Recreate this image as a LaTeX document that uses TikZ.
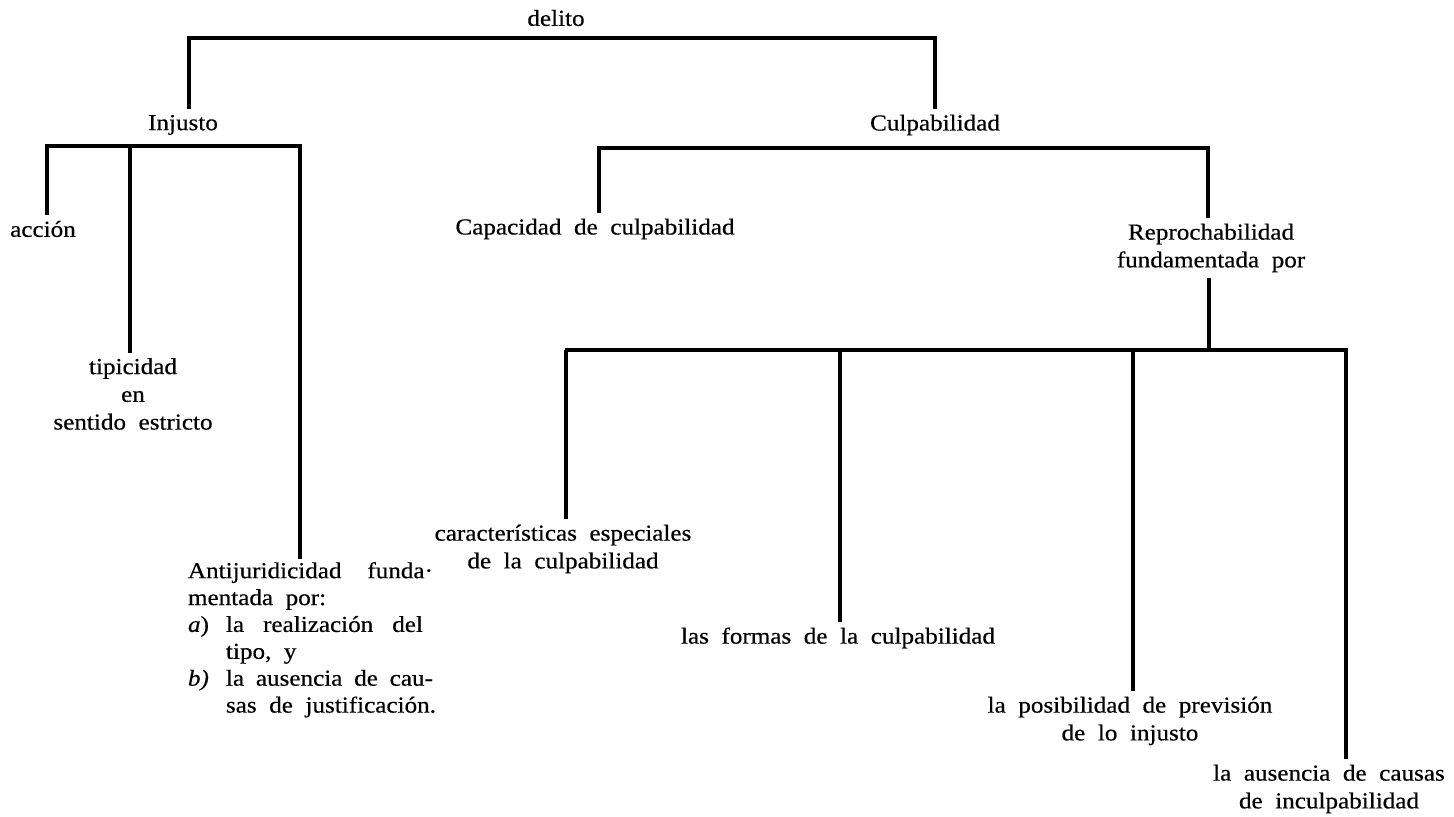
\documentclass[tikz,border=0pt]{standalone}
\usepackage{fontspec}
\setmainfont{Liberation Serif}[FakeStretch=1.1,WordSpace=2,FakeBold=0.5]
\usepackage{tikz}

\begin{document}
\begin{tikzpicture}[x=0.02cm, y=-0.02cm,
            rama/.style={line width=1.8pt},
            hoja/.style={inner sep=3pt, align=center, font=\fontsize{13}{15.8}\selectfont}]
            \useasboundingbox (0, 0) rectangle (1454, 817);

            \node[hoja] (delito) at (556, 18) {delito};
            \node[hoja] (inj) at (183, 125) {Injusto};
            \node[hoja] (culp) at (935, 125) {Culpabilidad};

            \node[hoja] (accion) at (43, 229) {acción};
            \node[hoja] (tipic) at (133, 394) {tipicidad\\en\\sentido estricto};
            \node[hoja, inner sep=0pt, font=\fontsize{13}{15.3}\selectfont] (antij) at (312, 640) {%
                \begin{tabular}{@{}l@{}l@{}}
                    \multicolumn{2}{@{}l@{}}{\makebox[4.9cm][s]{Antijuridicidad funda·}}\\
                    \multicolumn{2}{@{}l@{}}{mentada por:}\\
                    \makebox[0.76cm][l]{\textit{a})} & \makebox[3.94cm][s]{la realización del}\\
                    & tipo, y\\
                    \makebox[0.76cm][l]{\textit{b)}} & \makebox[4.14cm][s]{la ausencia de cau-}\\
                    & sas de justificación.
                \end{tabular}};

            \node[hoja] (capac) at (595, 229) {Capacidad de culpabilidad};
            \node[hoja] (reproch) at (1211, 248) {Reprochabilidad\\fundamentada por};

            \node[hoja] (caract) at (563, 549) {características especiales\\de la culpabilidad};
            \node[hoja] (formas) at (838, 638) {las formas de la culpabilidad};
            \node[hoja] (posib) at (1130, 721) {la posibilidad de previsión\\de lo injusto};
            \node[hoja] (ausen) at (1329, 789) {la ausencia de causas\\de inculpabilidad};

            \coordinate (b0l) at (187, 38);
            \coordinate (b0r) at (937, 38);
            \coordinate (b0a) at (189, 38);
            \coordinate (b0b) at (935, 38);
            \draw[rama] (b0l) -- (b0r)
                (b0a) edge (b0a |- inj.north)
                (b0b) edge (b0b |- culp.north);

            \coordinate (b1l) at (45, 146);
            \coordinate (b1r) at (302, 146);
            \coordinate (b1a) at (47, 146);
            \coordinate (b1b) at (130, 146);
            \coordinate (b1c) at (300, 146);
            \draw[rama] (b1l) -- (b1r)
                (b1a) edge (b1a |- accion.north)
                (b1b) edge (b1b |- tipic.north)
                (b1c) edge (b1c |- antij.north);

            \coordinate (b2l) at (597, 148);
            \coordinate (b2r) at (1210, 148);
            \coordinate (b2a) at (599, 148);
            \coordinate (b2b) at (1208, 148);
            \draw[rama] (b2l) -- (b2r)
                (b2a) edge (b2a |- capac.north)
                (b2b) edge (b2b |- reproch.north);

            \coordinate (b3l) at (565, 350);
            \coordinate (b3r) at (1348, 350);
            \coordinate (b3o) at (1209, 350);
            \coordinate (b3a) at (566, 350);
            \coordinate (b3b) at (840, 350);
            \coordinate (b3c) at (1133, 350);
            \coordinate (b3d) at (1346, 350);
            \draw[rama] (b3l) -- (b3r)
                (b3o |- reproch.south) edge (b3o)
                (b3a) edge (b3a |- caract.north)
                (b3b) edge (b3b |- formas.north)
                (b3c) edge (b3c |- posib.north)
                (b3d) edge (b3d |- ausen.north);
        \end{tikzpicture}
\end{document}
